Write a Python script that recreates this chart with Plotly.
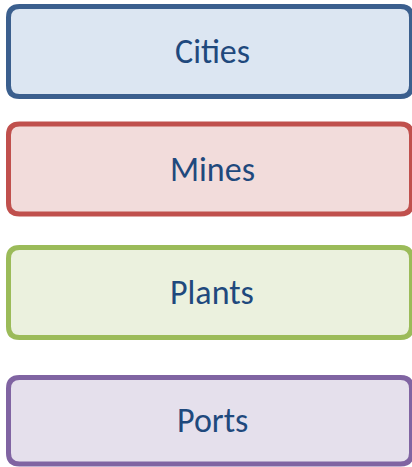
import plotly.graph_objects as go

# Data
labels = ["Cities", "Mines", "Plants", "Ports"]
border_colors = ["#3B5F8E", "#C0504D", "#9BBB59", "#8064A2"]
fill_colors = ["#DCE6F2", "#F2DCDB", "#EBF1DE", "#E5E0EC"]
text_color = "#1F497D"

# Layout (pixel space)
W, H = 412, 467
box_top = [6.5, 124, 247.5, 377.5]
box_h = [90, 90, 90, 86.5]
x0, x1 = 8.5, 411.5
r = 11
lw = 5


def rounded_rect(xa, ya, xb, yb, rad):
    return (f"M {xa+rad},{ya} L {xb-rad},{ya} Q {xb},{ya} {xb},{ya+rad} "
            f"L {xb},{yb-rad} Q {xb},{yb} {xb-rad},{yb} L {xa+rad},{yb} "
            f"Q {xa},{yb} {xa},{yb-rad} L {xa},{ya+rad} Q {xa},{ya} {xa+rad},{ya} Z")


fig = go.Figure()
shapes = []
annotations = []
for lab, bc, fc, t, h in zip(labels, border_colors, fill_colors, box_top, box_h):
    shapes.append(dict(type="path", xref="x", yref="y",
                       path=rounded_rect(x0, t, x1, t + h, r),
                       fillcolor=fc, line=dict(color=bc, width=lw), layer="below"))
    annotations.append(dict(x=212, y=t + h / 2, xref="x", yref="y",
                            text=lab, showarrow=False,
                            font=dict(family="Calibri, Carlito, Lato", size=34, color=text_color),
                            xanchor="center", yanchor="middle"))

fig.add_trace(go.Scatter(x=[0, W], y=[0, H], mode="markers", marker=dict(opacity=0),
                         hoverinfo="skip", showlegend=False))
fig.update_layout(width=W, height=H, margin=dict(l=0, r=0, t=0, b=0),
                  paper_bgcolor="white", plot_bgcolor="white",
                  shapes=shapes, annotations=annotations,
                  xaxis=dict(range=[0, W], visible=False, fixedrange=True),
                  yaxis=dict(range=[H, 0], visible=False, fixedrange=True),
                  showlegend=False)
fig.write_html("out.html", config={"displayModeBar": False},
               post_script="document.body.style.margin='0';document.body.style.overflow='hidden';")
